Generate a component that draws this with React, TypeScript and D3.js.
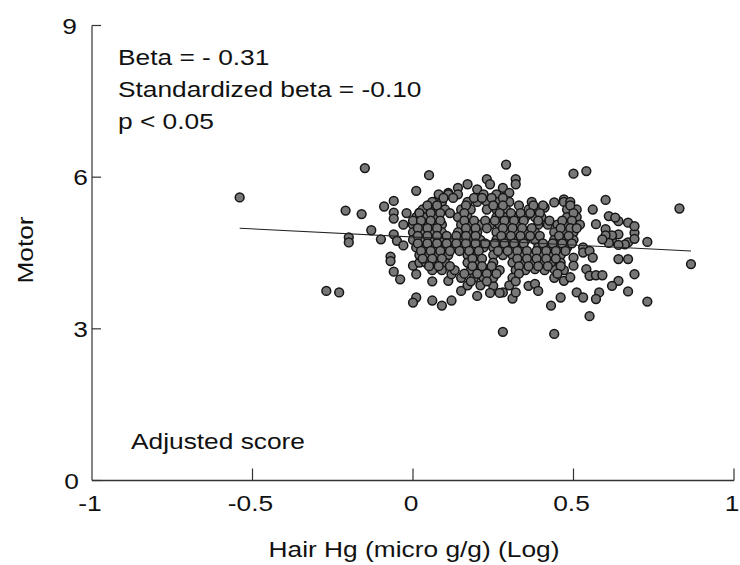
import React from "react";
import * as d3 from "d3";

// ---------- data ----------
const xTickValues = [-1, -0.5, 0, 0.5, 1];
const xTickLabels = ["-1", "-0.5", "0", "0.5", "1"];
const yTickValues = [0, 3, 6, 9];
const yTickLabels = ["0", "3", "6", "9"];

const annotationLines = ["Beta = - 0.31", "Standardized beta = -0.10", "p < 0.05"];
const cornerNote = "Adjusted score";
const xTitle = "Hair Hg (micro g/g) (Log)";
const yTitle = "Motor";

// regression line end points [x, y]
const fitLine: [number, number][] = [
  [-0.54, 4.99],
  [0.866, 4.54],
];

// sparse points on the left of the cloud
const leftPoints: [number, number][] = [
  [-0.54, 5.6], [-0.15, 6.18], [-0.21, 5.34], [-0.16, 5.27], [-0.09, 5.42],
  [-0.2, 4.81], [-0.2, 4.71], [-0.13, 4.95], [-0.1, 4.77], [-0.27, 3.75],
  [-0.23, 3.72], [0.05, 6.04], [0.01, 5.73], [-0.06, 5.53], [-0.06, 5.3],
  [-0.06, 5.18], [-0.02, 5.29], [-0.03, 5.06], [-0.06, 4.87], [-0.05, 4.74],
  [-0.03, 4.65], [0.02, 5.3], [0.05, 5.36], [0.02, 5.13], [0.08, 5.59],
  [0.11, 5.69], [0.14, 5.79], [0.17, 5.86], [0.2, 5.76], [-0.07, 4.43],
  [-0.07, 4.34], [-0.06, 4.13], [-0.04, 3.98], [0.01, 3.62], [0.0, 3.52],
  [0.06, 3.94], [0.06, 3.56], [0.09, 3.46], [0.12, 3.56], [0.15, 3.75],
  [0.2, 3.65], [0.01, 4.08], [0.11, 3.95], [0.12, 4.08], [0.0, 4.25],
  [0.02, 4.31],
];

// sparse points above / below / right of the cloud
const upperPoints: [number, number][] = [
  [0.29, 6.25], [0.23, 5.96], [0.24, 5.86], [0.28, 5.79], [0.3, 5.69],
  [0.32, 5.96], [0.32, 5.86], [0.5, 6.07], [0.47, 5.56], [0.44, 5.5],
  [0.41, 5.4], [0.54, 6.12], [0.6, 5.55], [0.83, 5.38], [0.56, 5.36],
  [0.51, 5.36], [0.57, 5.07],
];

const lowerPoints: [number, number][] = [
  [0.28, 2.94], [0.44, 2.9], [0.43, 3.46], [0.46, 3.62], [0.36, 3.85],
  [0.38, 3.89], [0.39, 3.75], [0.31, 3.6], [0.32, 3.72], [0.47, 3.95],
  [0.51, 3.72], [0.25, 3.85], [0.28, 3.72], [0.38, 4.18], [0.44, 4.18],
];

const rightPoints: [number, number][] = [
  [0.61, 5.23], [0.64, 5.13], [0.67, 5.1], [0.6, 4.97], [0.69, 4.9],
  [0.64, 4.87], [0.67, 4.71], [0.62, 4.74], [0.66, 4.67], [0.62, 4.85],
  [0.63, 5.2], [0.69, 5.03], [0.6, 4.85], [0.69, 4.78], [0.61, 4.7],
  [0.64, 4.66], [0.59, 4.77], [0.73, 4.72], [0.53, 4.61], [0.53, 4.51],
  [0.55, 4.54], [0.56, 4.41], [0.64, 4.38], [0.67, 4.38], [0.866, 4.28],
  [0.5, 4.41], [0.5, 4.25], [0.49, 4.02], [0.54, 4.18], [0.55, 4.05],
  [0.57, 4.06], [0.59, 4.06], [0.69, 4.08], [0.64, 3.95], [0.62, 3.85],
  [0.53, 3.62], [0.58, 3.72], [0.57, 3.59], [0.67, 3.74], [0.73, 3.54],
  [0.55, 3.25],
];

// dense core of the cloud, read row by row
const coreRowY = [5.66, 5.51, 5.36, 5.21, 5.06, 4.91, 4.76, 4.61, 4.46, 4.31, 4.16, 4.01, 3.86, 3.71];
const coreRowX: number[][] = [
  [0.08, 0.11, 0.14, 0.22, 0.26],
  [0.06, 0.09, 0.17, 0.2, 0.23, 0.26, 0.3, 0.37, 0.47, 0.49],
  [0.03, 0.08, 0.1, 0.15, 0.18, 0.23, 0.26, 0.29, 0.36, 0.39, 0.48],
  [0.01, 0.04, 0.07, 0.14, 0.17, 0.26, 0.29, 0.32, 0.35, 0.38, 0.4, 0.48, 0.51],
  [0.0, 0.03, 0.06, 0.09, 0.15, 0.18, 0.21, 0.24, 0.27, 0.3, 0.33, 0.39, 0.42, 0.45, 0.48, 0.52],
  [0.0, 0.03, 0.06, 0.09, 0.14, 0.17, 0.2, 0.26, 0.29, 0.32, 0.35, 0.38, 0.44, 0.47, 0.5],
  [0.0, 0.03, 0.06, 0.09, 0.12, 0.15, 0.18, 0.21, 0.26, 0.29, 0.32, 0.35, 0.38, 0.44, 0.47, 0.5],
  [0.01, 0.04, 0.07, 0.1, 0.13, 0.16, 0.19, 0.22, 0.25, 0.28, 0.31, 0.34, 0.39, 0.42, 0.45, 0.48],
  [0.02, 0.05, 0.08, 0.11, 0.17, 0.2, 0.25, 0.28, 0.31, 0.34, 0.37, 0.4, 0.43, 0.46],
  [0.04, 0.07, 0.1, 0.17, 0.2, 0.25, 0.31, 0.34, 0.37, 0.4, 0.43, 0.46],
  [0.06, 0.09, 0.13, 0.18, 0.21, 0.24, 0.27, 0.32, 0.35, 0.41, 0.47],
  [0.15, 0.19, 0.22, 0.25, 0.31, 0.44],
  [0.17, 0.21, 0.3],
  [0.24, 0.27],
];

// second, in-between set of core rows
const coreRow2Y = [5.59, 5.44, 5.29, 5.14, 4.99, 4.84, 4.69, 4.54, 4.39, 4.24, 4.09, 3.94];
const coreRow2X: number[][] = [
  [0.095, 0.125, 0.19, 0.215, 0.245, 0.28],
  [0.045, 0.075, 0.165, 0.25, 0.28, 0.33, 0.375, 0.405, 0.49],
  [0.02, 0.055, 0.085, 0.115, 0.16, 0.27, 0.305, 0.335, 0.365, 0.395, 0.5],
  [0.0, 0.025, 0.055, 0.085, 0.16, 0.19, 0.225, 0.255, 0.285, 0.315, 0.345, 0.39, 0.425, 0.465, 0.495],
  [0.015, 0.045, 0.075, 0.165, 0.195, 0.23, 0.28, 0.31, 0.34, 0.37, 0.46, 0.49, 0.51],
  [0.015, 0.045, 0.075, 0.105, 0.135, 0.165, 0.195, 0.275, 0.305, 0.335, 0.365, 0.395, 0.455, 0.485],
  [0.015, 0.045, 0.075, 0.105, 0.135, 0.165, 0.195, 0.225, 0.255, 0.285, 0.315, 0.345, 0.405, 0.435, 0.465, 0.495],
  [0.025, 0.055, 0.085, 0.115, 0.145, 0.175, 0.205, 0.265, 0.295, 0.325, 0.355, 0.385, 0.415, 0.445, 0.475],
  [0.03, 0.06, 0.09, 0.185, 0.215, 0.325, 0.355, 0.385, 0.415, 0.445],
  [0.05, 0.08, 0.115, 0.185, 0.215, 0.245, 0.33, 0.36, 0.39, 0.42, 0.46],
  [0.16, 0.2, 0.23, 0.26, 0.33, 0.45],
  [0.18, 0.23, 0.32],
];

// ---------- layout ----------
const W = 740;
const H = 565;
const FONT = "'Liberation Sans', Arial, Helvetica, sans-serif";
const FS = 22.5;
const SX = 1.17; // glyph width stretch
const yLabelRight: Record<string, number> = { "0": 79, "3": 88, "6": 88, "9": 77 };

function T({ x, y, anchor = "start", rotate = false, children }: any) {
  return (
    <text
      transform={`translate(${x},${y})${rotate ? " rotate(-90)" : ""} scale(${SX},1)`}
      textAnchor={anchor}
      fontFamily={FONT}
      fontSize={FS}
      fill="#111"
    >
      {children}
    </text>
  );
}

export default function App() {
  const x = d3.scaleLinear().domain([-1, 1]).range([92, 734]);
  const y = d3.scaleLinear().domain([0, 9]).range([480.5, 25.5]);

  const corePoints: [number, number][] = [];
  coreRowY.forEach((yy, i) => coreRowX[i].forEach((xx) => corePoints.push([xx, yy])));
  coreRow2Y.forEach((yy, i) => coreRow2X[i].forEach((xx) => corePoints.push([xx, yy])));
  const allPoints = [...leftPoints, ...upperPoints, ...lowerPoints, ...rightPoints, ...corePoints];

  const line = d3
    .line<[number, number]>()
    .x((d) => x(d[0]))
    .y((d) => y(d[1]));

  const axisColor = "#333";

  return (
    <svg
      width={W}
      height={H}
      viewBox={`0 0 ${W} ${H}`}
      style={{ position: "absolute", left: 0, top: 0, background: "#fff" }}
    >
      <rect x={0} y={0} width={W} height={H} fill="#fff" />
      {/* axes */}
      <line x1={x(-1)} x2={x(-1)} y1={y(9)} y2={y(0)} stroke={axisColor} strokeWidth={1.2} />
      <line x1={x(-1)} x2={x(1)} y1={y(0)} y2={y(0)} stroke={axisColor} strokeWidth={1.4} />
      {yTickValues.map((v) => (
        <line key={"yt" + v} x1={x(-1)} x2={x(-1) + 9} y1={y(v)} y2={y(v)} stroke={axisColor} strokeWidth={1.2} />
      ))}
      {xTickValues.map((v) =>
        v === -1 ? null : (
          <line key={"xt" + v} x1={x(v)} x2={x(v)} y1={y(0)} y2={y(0) - 12} stroke={axisColor} strokeWidth={1.2} />
        )
      )}
      {yTickValues.map((v, i) => (
        <T key={"yl" + v} x={yLabelRight[yTickLabels[i]] ?? 80} y={y(v) + 8} anchor="end">
          {yTickLabels[i]}
        </T>
      ))}
      {xTickValues.map((v, i) => (
        <T key={"xl" + v} x={x(v) - 2} y={511} anchor="middle">
          {xTickLabels[i]}
        </T>
      ))}
      {/* titles */}
      <T x={414} y={557} anchor="middle">{xTitle}</T>
      <T x={33} y={250} anchor="middle" rotate>{yTitle}</T>
      {/* annotations */}
      {annotationLines.map((s, i) => (
        <T key={"an" + i} x={118} y={65 + i * 31.8}>{s}</T>
      ))}
      <T x={131} y={448.5}>{cornerNote}</T>
      {/* points */}
      <g>
        {allPoints.map((d, i) => (
          <circle key={i} cx={x(d[0])} cy={y(d[1])} r={4.4} fill="#777" stroke="#151515" strokeWidth={1.5} />
        ))}
      </g>
      {/* fit line */}
      <path d={line(fitLine) || ""} fill="none" stroke="#222" strokeWidth={1.1} />
    </svg>
  );
}
